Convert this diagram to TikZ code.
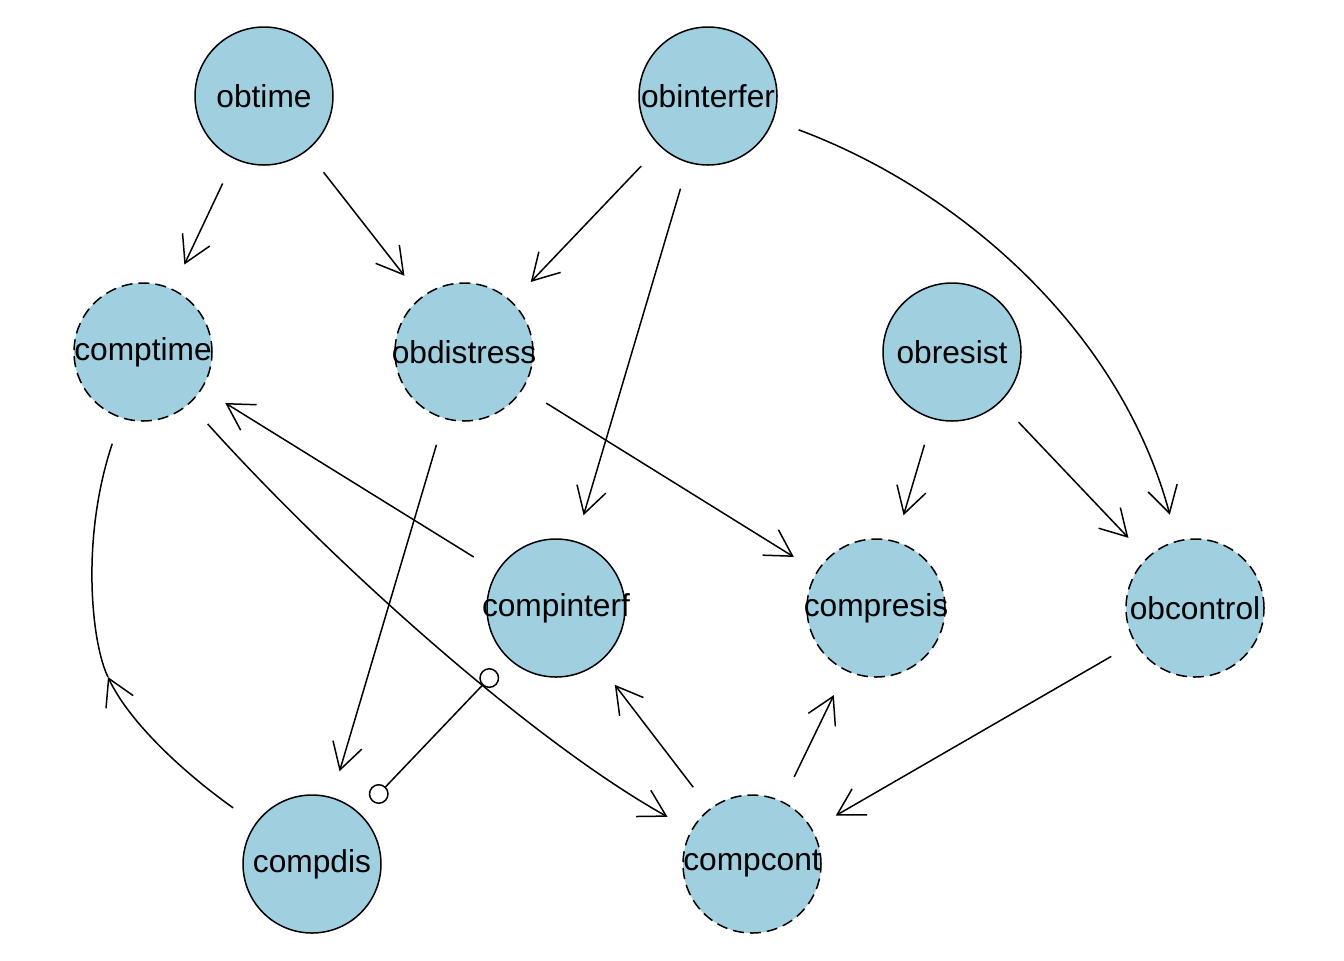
\documentclass[tikz,border=0pt]{standalone}
\usepackage{fontspec}
\setmainfont{Liberation Sans}
\usetikzlibrary{arrows.meta}
\definecolor{nodefill}{RGB}{160,207,224}
\begin{document}
\begin{tikzpicture}[x=0.5pt,y=-0.5pt,
  vnode/.style={circle,draw=black,line width=0.75pt,fill=nodefill,minimum size=69pt,inner sep=0pt,
    font=\fontsize{15.85pt}{18pt}\selectfont},
  latent/.style={vnode,dash pattern=on 5.5pt off 3pt},
  edge/.style={line width=0.75pt,-{Straight Barb[length=13pt,width=15pt]},shorten <=13.5pt,shorten >=13.5pt},
  cov/.style={line width=0.75pt,{Circle[open,length=10pt,width=10pt]}-{Circle[open,length=10pt,width=10pt]},shorten <=8.5pt,shorten >=8.5pt}]
\useasboundingbox (0,0) rectangle (1344,960);
\node[vnode]  (obtime)     at (264,96)  {\makebox[0pt]{obtime}};
\node[vnode]  (obinterfer) at (708,96)  {\makebox[0pt]{obinterfer}};
\node[latent] (comptime)   at (143,352) {\makebox[0pt]{comptime}};
\node[latent] (obdistress) at (464,352) {\makebox[0pt]{obdistress}};
\node[vnode]  (obresist)   at (952,352) {\makebox[0pt]{obresist}};
\node[vnode]  (compinterf) at (556,608) {\makebox[0pt]{compinterf}};
\node[latent] (compresis)  at (876,608) {\makebox[0pt]{compresis}};
\node[latent] (obcontrol)  at (1195,608) {\makebox[0pt]{obcontrol}};
\node[vnode]  (compdis)    at (312,864) {\makebox[0pt]{compdis}};
\node[latent] (compcont)   at (752,864) {\makebox[0pt]{compcont}};
\coordinate (m) at (108,677);

\draw[edge] (obtime) -- (comptime);
\draw[edge] (obtime) -- (obdistress);
\draw[edge] (obinterfer) -- (obdistress);
\draw[edge] (obinterfer) -- (compinterf);
\draw[edge] (obinterfer) .. controls (960,190) and (1120,330) .. (obcontrol);
\draw[edge] (obresist) -- (compresis);
\draw[edge] (obresist) -- (obcontrol);
\draw[edge] (obdistress) -- (compresis);
\draw[edge] (obdistress) -- (compdis);
\draw[edge] (comptime) .. controls (330,560) and (530,740) .. (compcont);
\draw[edge] (compinterf) -- (comptime);
\draw[edge,shorten >=0pt] (compdis) .. controls (180,770) and (128,720) .. (m);
\draw[line width=0.75pt,shorten >=13.5pt] (m) .. controls (92,645) and (80,540) .. (comptime);
\draw[edge] (compcont) -- (compinterf);
\draw[edge] (compcont) -- (compresis);
\draw[edge] (obcontrol) -- (compcont);
\draw[cov] (compinterf) -- (compdis);
\end{tikzpicture}
\end{document}
